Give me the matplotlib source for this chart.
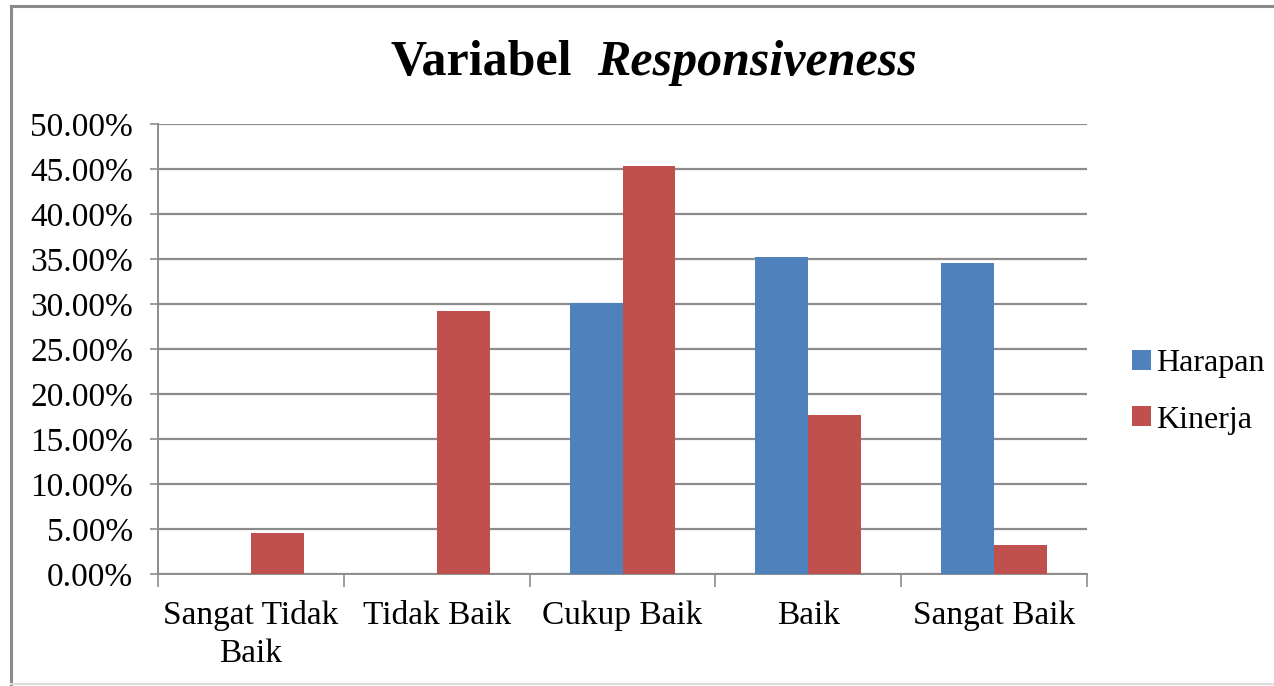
import matplotlib
matplotlib.use("Agg")
import matplotlib.pyplot as plt
from matplotlib.lines import Line2D
from matplotlib.ticker import FuncFormatter, FixedLocator

categories = ["Sangat Tidak\nBaik", "Tidak Baik", "Cukup Baik", "Baik", "Sangat Baik"]
harapan = [0.0, 0.0, 30.1, 35.2, 34.6]
kinerja = [4.6, 29.2, 45.3, 17.7, 3.2]
series_names = ["Harapan", "Kinerja"]
yticks = [0, 5, 10, 15, 20, 25, 30, 35, 40, 45, 50]

BLUE = "#4F81BD"
RED = "#C0504D"
GRID = "#8C8C8C"
SERIF = ["Liberation Serif", "DejaVu Serif"]

plt.rcParams["font.family"] = SERIF

W, H = 1274, 686
fig = plt.figure(figsize=(W / 100, H / 100), dpi=100)
fig.patch.set_facecolor("white")

ax = fig.add_axes([158 / W, 1 - 574 / H, (1087 - 158) / W, (574 - 124) / H])

x = list(range(len(categories)))
bw = 0.285
ax.bar([i - bw / 2 for i in x], harapan, width=bw, color=BLUE, label=series_names[0], zorder=3)
ax.bar([i + bw / 2 for i in x], kinerja, width=bw, color=RED, label=series_names[1], zorder=3)

ax.set_xlim(-0.5, len(categories) - 0.5)
ax.set_ylim(0, 50)
ax.set_yticks(yticks)
ax.yaxis.set_major_formatter(FuncFormatter(lambda v, p: f"{v:.2f}%"))
ax.yaxis.grid(True, color=GRID, linewidth=1.6, zorder=0)
ax.set_axisbelow(True)

ax.set_xticks(x)
ax.set_xticklabels(categories, fontsize=24, linespacing=1.3)
ax.xaxis.set_minor_locator(FixedLocator([i - 0.5 for i in range(len(categories) + 1)]))
ax.tick_params(axis="x", which="major", length=0, pad=19)
ax.tick_params(axis="x", which="minor", length=9, width=1.2, color=GRID)
ax.tick_params(axis="y", which="major", length=6, width=1.2, color=GRID, labelsize=24, pad=12)

for s in ["top", "right"]:
    ax.spines[s].set_visible(False)
for s in ["left", "bottom"]:
    ax.spines[s].set_color(GRID)
    ax.spines[s].set_linewidth(1.4)

# Title: plain bold word followed by a bold-italic word
fig.text(572 / W, 1 - 75 / H, "Variabel", fontsize=36, fontweight="bold",
         ha="right", va="baseline")
fig.text(597 / W, 1 - 75 / H, "Responsiveness", fontsize=36, fontweight="bold",
         fontstyle="italic", ha="left", va="baseline")

leg = ax.legend(loc="center left", bbox_to_anchor=(1132 / W, 1 - 392 / H),
                bbox_transform=fig.transFigure, frameon=False, fontsize=23,
                handlelength=0.6, handleheight=0.6, handletextpad=0.15,
                labelspacing=0.85, borderpad=0, borderaxespad=0)

# Chart-area frame
frame_col = "#8A8A8A"
fig.add_artist(Line2D([11 / W, 11 / W], [1 - 684 / H, 1 - 6 / H], color=frame_col,
                      linewidth=2.2, transform=fig.transFigure))
fig.add_artist(Line2D([11 / W, 1.0], [1 - 6 / H, 1 - 6 / H], color=frame_col,
                      linewidth=2.2, transform=fig.transFigure))
fig.add_artist(Line2D([11 / W, 1.0], [1 - 684 / H, 1 - 684 / H], color="#DDDDDD",
                      linewidth=1.5, transform=fig.transFigure))

fig.savefig("out.png", dpi=100, facecolor="white")
